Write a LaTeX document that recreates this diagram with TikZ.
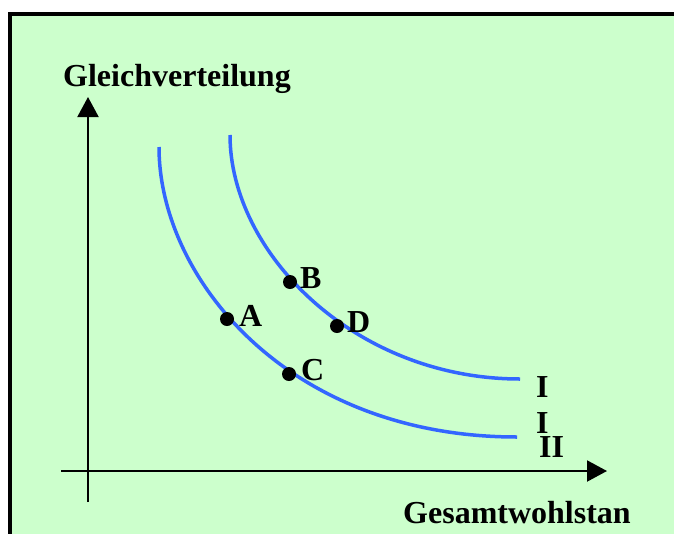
\documentclass[tikz,border=0pt]{standalone}
\usepackage{fontspec}
\setmainfont{Liberation Serif}
\usetikzlibrary{arrows.meta}
\definecolor{bggreen}{RGB}{204,255,204}
\definecolor{curveblue}{RGB}{51,102,255}
\tikzset{
  lbl/.style={inner sep=0pt, anchor=base west, font=\fontsize{32}{38}\selectfont\bfseries},
  dot/.style={circle, fill=black, inner sep=0pt, minimum size=14pt},
  axis/.style={line width=2pt, -{Triangle[length=20pt, width=21pt]}},
  curve/.style={line width=3.5pt, curveblue}
}
\begin{document}
\begin{tikzpicture}[x=1pt, y=-1pt]
\useasboundingbox (0,0) rectangle (674,533);
\fill[white] (0,0) rectangle (674,533);
\fill[bggreen] (10,14) rectangle (680,540);
\draw[line width=4pt] (10,540) -- (10,14) -- (680,14);
% axes
\coordinate (yb) at (88,502);
\coordinate (yt) at (88,97);
\coordinate (xl) at (61,471);
\coordinate (xr) at (607,471);
\draw[axis] (yb) -- (yt);
\draw[axis] (xl) -- (xr);
% curves
\coordinate (o1) at (230,135);
\coordinate (o2) at (520,379);
\coordinate (i1) at (159,147);
\coordinate (i2) at (517,437);
\draw[curve] (o1) .. controls (230,253) and (355,379) .. (o2);
\draw[curve] (i1) .. controls (159,278) and (288,437) .. (i2);
% dots
\node[dot] (A) at (227,319) {};
\node[dot] (B) at (290,282) {};
\node[dot] (C) at (289,374) {};
\node[dot] (D) at (337,326) {};
% labels
\node[lbl] (lA) at (239,326) {A};
\node[lbl] (lB) at (300,288) {B};
\node[lbl] (lC) at (301,380) {C};
\node[lbl] (lD) at (347,332) {D};
\node[lbl] (l1) at (536,397) {I};
\node[lbl] (l2) at (536,433) {I};
\node[lbl] (l3) at (539,457) {II};
\node[lbl] (ylab) at (63,86) {Gleichverteilung};
\node[lbl] (xlab) at (403,523) {Gesamtwohlstan};
\end{tikzpicture}
\end{document}
